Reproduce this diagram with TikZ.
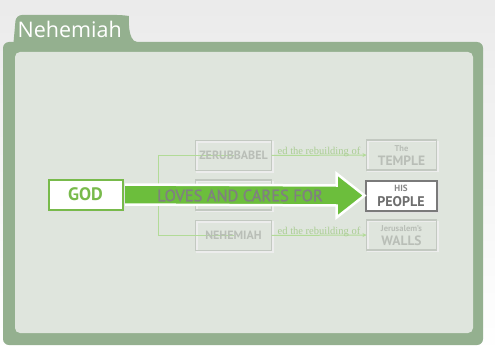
\documentclass[tikz,border=0pt]{standalone}
\usepackage{fontspec}
\setmainfont{PT Sans}
\newfontfamily\notefont{Liberation Serif}
\newfontfamily\tabfont{Open Sans}
\newfontfamily\lovesfont[FakeBold=1.2]{PT Sans}
\usetikzlibrary{arrows.meta,calc}
\definecolor{framegreen}{HTML}{94B08F}
\definecolor{panelbg}{HTML}{DFE5DD}
\definecolor{fadeline}{HTML}{C3C9C1}
\definecolor{fadetext}{HTML}{B9BEB7}
\definecolor{fadegreen}{HTML}{B2DB97}
\definecolor{godgreen}{HTML}{78BA4B}
\definecolor{arrowgreen}{HTML}{6CBE3C}
\definecolor{peopleline}{HTML}{7A7A7A}
\begin{document}
\begin{tikzpicture}[x=1pt,y=-1pt,
  fadebox/.style={draw=fadeline, line width=1.6pt, minimum width=76pt, minimum height=30pt,
    inner sep=0pt, outer sep=0pt,
    preaction={draw=black!7, line width=1.6pt, transform canvas={shift={(1.5pt,-1.5pt)}}}},
  rightbox/.style={fadebox, minimum width=70pt},
  fadelabel/.style={text=fadetext, font=\bfseries\fontsize{12}{12}\selectfont, inner sep=0pt},
  smalllabel/.style={text=fadetext, font=\bfseries\fontsize{8.5}{9}\selectfont, inner sep=0pt},
  biglabel/.style={text=fadetext, font=\bfseries\fontsize{13.5}{14}\selectfont, inner sep=0pt},
  conn/.style={draw=fadegreen, line width=1pt},
  connarrow/.style={conn, -{Stealth[length=4pt,width=4pt]}},
  notelabel/.style={text=fadegreen!85!gray, font=\notefont\fontsize{10.5}{11}\selectfont, inner sep=0pt},
  godbox/.style={draw=godgreen, fill=white, line width=2pt, minimum width=74pt, minimum height=30pt,
    inner sep=0pt, outer sep=0pt, text=godgreen, font=\bfseries\fontsize{18}{18}\selectfont},
  shadowed/.style={preaction={fill=black!12, draw=black!12, line width=2pt, transform canvas={shift={(1.5pt,-1.5pt)}}}},
  peoplebox/.style={draw=peopleline, fill=white, line width=2pt, minimum width=71pt, minimum height=30pt,
    inner sep=0pt, outer sep=0pt},
  bigarrow/.style={draw=white, line width=2.5pt, fill=arrowgreen, line join=miter}
]
\useasboundingbox (0,0) rectangle (495,353);
\shade[top color=black!8, bottom color=white] (0,0) rectangle (495,353);
% folder frame
\fill[framegreen, rounded corners=6pt] (3,42) rectangle (483,345);
\fill[framegreen] (13,48) [rounded corners=6pt] -- (16,15) -- (123,15) [sharp corners]
   .. controls (129,16) and (127,41) .. (137,42) -- (137,48) -- cycle;
\node[text=white, font=\tabfont\fontsize{21.5}{21.5}\selectfont, anchor=base west, inner sep=0pt] (tab) at (17.5,37.5) {Nehemiah};
\fill[panelbg, rounded corners=5pt] (15,52) rectangle (473,333);

% nodes
\node[fadebox] (zer) at (233.5,155.5) {};
\node[fadebox] (mid) at (233.5,195) {};
\node[fadebox] (neh) at (233.5,235.5) {};
\node[rightbox] (temple) at (401.5,155) {};
\node[rightbox] (walls) at (401.5,235) {};
\coordinate (split) at (158,195);
\coordinate (godanchor) at (123,194.5);

% connectors
\draw[conn] (godanchor) -- (split);
\draw[conn] (zer.center) -- (zer.center -| split) -- (neh.center -| split) -- (neh.center);
\draw[conn] (split) -- (mid.center);
\draw[connarrow] (zer.east) -- node[notelabel, midway, yshift=3pt] (note1) {ed the rebuilding of} (temple.west);
\draw[connarrow] (neh.east) -- node[notelabel, midway, yshift=3pt] (note2) {ed the rebuilding of} (walls.west);

% faded labels
\node[fadelabel] (zert) at (zer.center) {ZERUBBABEL};
\node[fadelabel] (neht) at (neh.center) {NEHEMIAH};
\node[smalllabel] (templea) at ([yshift=6pt]temple.center) {The};
\node[biglabel] (templeb) at ([yshift=-6pt]temple.center) {TEMPLE};
\node[smalllabel] (wallsa) at ([yshift=6pt]walls.center) {Jerusalem’s};
\node[biglabel] (wallsb) at ([yshift=-6pt]walls.center) {WALLS};

% main boxes and arrow
\node[peoplebox, shadowed] (people) at (401,195.5) {};
\draw[bigarrow] ($(godanchor)+(0,-10)$) -- ($(people.west)+(-29,-10)$) -- ($(people.west)+(-29,-22)$)
   -- ($(people.west)+(-1,0)$) -- ($(people.west)+(-29,22)$) -- ($(people.west)+(-29,10)$)
   -- ($(godanchor)+(0,10)$) -- cycle;
\node[godbox, shadowed] (god) at (85.5,194.5) {GOD};
\node[text=black!50, font=\lovesfont\fontsize{16.5}{16.5}\selectfont, inner sep=0pt] (loves) at (240,195.5) {LOVES AND CARES FOR};
\node[text=black!47, font=\bfseries\fontsize{9}{9}\selectfont, inner sep=0pt] (peoplea) at ([yshift=7pt]people.center) {HIS};
\node[text=black!57, font=\bfseries\fontsize{14}{14}\selectfont, inner sep=0pt] (peopleb) at ([yshift=-6pt]people.center) {PEOPLE};
\end{tikzpicture}
\end{document}
